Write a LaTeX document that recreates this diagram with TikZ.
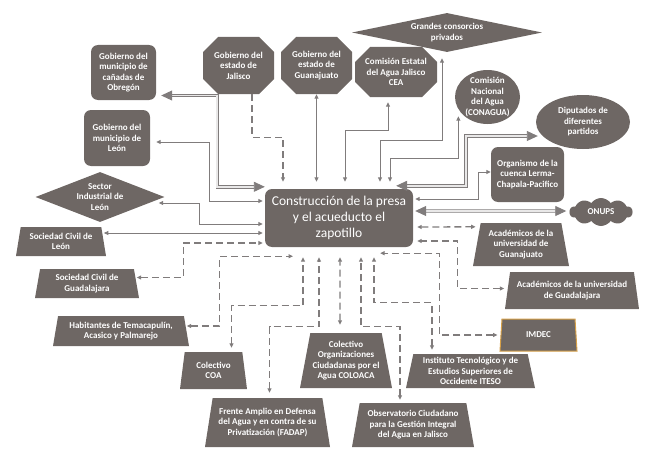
\documentclass[tikz,border=0pt]{standalone}
\usepackage{fontspec}
\setmainfont{Carlito}
\usetikzlibrary{shapes.geometric,shapes.misc,shapes.symbols,arrows.meta}
\definecolor{boxgray}{RGB}{110,103,100}
\definecolor{linegray}{RGB}{128,124,124}
\definecolor{imdecgold}{RGB}{214,160,72}
\newcommand{\actorfont}{\fontsize{9}{10.5}\selectfont\bfseries}
\newcommand{\presafont}{\fontsize{13.5}{16}\selectfont}
\tikzset{
	actor/.style={fill=boxgray,text=white,font=\actorfont,align=center,inner sep=1pt},
	rbox/.style={actor,rounded corners=7pt},
	octa/.style={actor,chamfered rectangle,chamfered rectangle xsep=6pt,chamfered rectangle ysep=9pt,inner sep=0pt},
	trap/.style={actor,trapezium,trapezium angle=76,trapezium stretches body},
	rhomb/.style={actor,diamond,inner sep=0pt},
	oval/.style={actor,ellipse,inner sep=-1pt},
	puff/.style={actor,cloud,cloud puffs=10,cloud puff arc=110,inner sep=0pt},
	tipsm/.tip={Triangle[length=4.5pt,width=4pt]},
	tipbg/.tip={Triangle[length=11pt,width=10pt]},
	solidarr/.style={draw=linegray,line width=1pt,tipsm-tipsm},
	dasharr/.style={solidarr,line width=1.3pt,dash pattern=on 7pt off 4pt},
	dbl/.style={draw=linegray,line width=0.9pt,double=white!85!boxgray,double distance=1.6pt,tipbg-tipbg}
}
\begin{document}
\begin{tikzpicture}[x=1pt,y=-1pt]
	\useasboundingbox (0,0) rectangle (655,452);

	\node[rbox,minimum width=148pt,minimum height=58pt,font=\presafont] (presa) at (339,218) {Construcción de la presa\\y el acueducto el\\zapotillo};

	\node[rbox,minimum width=65pt,minimum height=55pt] (obregon) at (123.5,72.5) {Gobierno del\\municipio de\\cañadas de\\Obregón};
	\node[rbox,minimum width=66pt,minimum height=56pt] (leonmun) at (117,138) {Gobierno del\\municipio de\\León};
	\node[rhomb,aspect=2.6,minimum width=129pt,minimum height=50pt] (sector) at (100,197) {Sector\\Industrial de\\León};
	\node[octa,minimum width=71pt,minimum height=57pt] (jalisco) at (238.5,65.5) {Gobierno del\\estado de\\Jalisco};
	\node[octa,minimum width=71pt,minimum height=57pt] (guanajuato) at (316.5,65.5) {Gobierno del\\estado de\\Guanajuato};
	\node[octa,minimum width=82pt,minimum height=50pt] (cea) at (396,72) {Comisión Estatal\\del Agua Jalisco\\CEA};
	\node[rhomb,aspect=4.8,minimum width=190pt,minimum height=39pt] (consorcios) at (447,32.5) {Grandes consorcios\\privados};
	\node[oval,minimum width=65pt,minimum height=54pt] (conagua) at (487.5,97) {Comisión\\Nacional\\del Agua\\(CONAGUA)};
	\node[oval,minimum width=94pt,minimum height=54pt] (diputados) at (583,122) {Diputados de\\diferentes\\partidos};
	\node[rbox,minimum width=73pt,minimum height=55pt] (cuenca) at (527.5,174.5) {Organismo de la\\cuenca Lerma-\\Chapala-Pacifico};
	\node[puff,aspect=2.3,minimum width=63pt,minimum height=28pt] (onups) at (601,212) {ONUPS};

	\node[trap,minimum width=96pt,minimum height=43pt] (acgto) at (521,244.5) {Académicos de la\\universidad de\\Guanajuato};
	\node[trap,minimum width=134pt,minimum height=37pt] (acgdl) at (572,290.5) {Académicos de la universidad\\de Guadalajara};
	\node[trap,draw=imdecgold,line width=1pt,minimum width=77pt,minimum height=32pt] (imdec) at (538.5,335) {IMDEC};
	\node[trap,minimum width=129pt,minimum height=34pt] (iteso) at (470.5,371) {Instituto Tecnológico y de\\Estudios Superiores de\\Occidente ITESO};
	\node[trap,minimum width=122pt,minimum height=44pt] (observ) at (413,425) {Observatorio Ciudadano\\para la Gestión Integral\\del Agua en Jalisco};
	\node[trap,minimum width=92pt,minimum height=55pt] (coloaca) at (346,360.5) {Colectivo\\Organizaciones\\Ciudadanas por el\\Agua COLOACA};
	\node[trap,minimum width=125pt,minimum height=49pt] (fadap) at (267.5,422.5) {Frente Amplio en Defensa\\del Agua y en contra de su\\Privatización (FADAP)};
	\node[trap,minimum width=67pt,minimum height=37pt] (coa) at (213.5,370.5) {Colectivo\\COA};
	\node[trap,minimum width=136pt,minimum height=30pt] (habit) at (121,331) {Habitantes de Temacapulín,\\Acasico y Palmarejo};
	\node[trap,minimum width=104pt,minimum height=29pt] (scgdl) at (87,283.5) {Sociedad Civil de\\Guadalajara};
	\node[trap,minimum width=90pt,minimum height=29pt] (scleon) at (61,241.5) {Sociedad Civil de\\León};

	\coordinate (top) at ([yshift=7pt]presa.north);
	\coordinate (bot) at ([yshift=-10pt]presa.south);
	\coordinate (leonrow) at ([yshift=-15pt]presa.west);
	\coordinate (habend) at ([xshift=-46pt,yshift=1pt]bot);

	\draw[dbl] ([xshift=5pt,yshift=-23pt]obregon.east) -- ++(56,0) |- ([yshift=2pt]presa.north west);
	\draw[solidarr] ([xshift=6pt,yshift=-4pt]leonmun.east) -- ++(53,0) |- ([xshift=-2pt,yshift=17pt]presa.west);
	\draw[solidarr] ([xshift=-6pt,yshift=-6pt]sector.east) -- ++(40.5,0) |- ([xshift=-2pt,yshift=-6pt]presa.west);
	\draw[solidarr] (leonrow -| scleon.east) -- ([xshift=-2pt]leonrow);
	\draw[dasharr] ([yshift=6pt]scgdl.east) -- ++(46.5,0) |- ([xshift=-2pt,yshift=-25pt]presa.west);
	\draw[dasharr] ([yshift=5pt]habit.east) -- ++(33,0) |- (habend);
	\draw[dasharr] ([xshift=18pt,yshift=4pt]coa.north) -- ++(0,-42) -| ([xshift=-36pt]bot);
	\draw[dasharr] ([xshift=2pt,yshift=5pt]fadap.north) -- ++(0,-66) -| ([xshift=-20pt]bot);
	\draw[dasharr] ([xshift=-6pt,yshift=8pt]coloaca.north) -- ([xshift=1pt]bot);
	\draw[dasharr] ([xshift=-13pt,yshift=3pt]observ.north) -- ++(0,-73) -| ([xshift=22pt]bot);
	\draw[dasharr] ([xshift=-38.5pt,yshift=4pt]iteso.north) -- ++(0,-47) -| ([xshift=35pt]bot);
	\draw[dasharr] ([xshift=-3pt]imdec.west) -- ++(-58,0) |- ([xshift=-33pt,yshift=-6pt]presa.south east);
	\draw[dasharr] ([xshift=-3pt,yshift=2pt]acgdl.west) -- ++(-46.5,0) |- ([xshift=4pt,yshift=-23pt]presa.east);
	\draw[dasharr] ([xshift=4pt,yshift=-9pt]presa.east) -- ([xshift=-5pt,yshift=-4pt]acgto.top left corner);
	\draw[dbl] ([xshift=2pt,yshift=7pt]presa.east) -- ([xshift=-3pt,yshift=1pt]onups.west);
	\draw[solidarr] ([yshift=2.5pt]cuenca.west) -- ++(-12,0) |- ([xshift=2pt,yshift=19pt]presa.east);
	\draw[dbl] ([xshift=2pt,yshift=-14pt]diputados.west) -- ++(-72,0) |- ([xshift=-17pt,yshift=3pt]presa.north east);
	\draw[solidarr] ([xshift=-6pt]conagua.south west) -- ++(0,42) -| ([xshift=51pt]top);
	\draw[solidarr] ([xshift=-5pt,yshift=-6pt]consorcios.south) -- ++(0,82) -| ([xshift=41pt]top);
	\draw[solidarr] ([xshift=-8pt,yshift=-5pt]cea.south) -- ++(0,28) -| ([xshift=6pt]top);
	\draw[solidarr] (guanajuato.south) -- (guanajuato.south |- top);
	\draw[dasharr,-tipsm] ([xshift=13.5pt]jalisco.south) -- ++(0,43) -| ([xshift=-56pt]top);
\end{tikzpicture}
\end{document}
